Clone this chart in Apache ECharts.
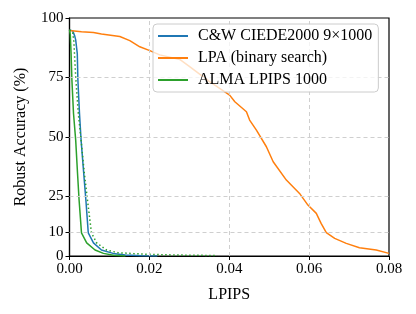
<!DOCTYPE html>
<html><head><meta charset="utf-8">
<script src="https://cdn.jsdelivr.net/npm/echarts@6/dist/echarts.min.js"></script>
<style>html,body{margin:0;padding:0;background:#fff}#c{width:416px;height:314px}</style>
</head><body><div id="c"></div>
<script>
const xTicks = [0, 0.02, 0.04, 0.06, 0.08];
const yTicks = [0, 10, 25, 50, 75, 100];
const seriesNames = ['C&W CIEDE2000 9×1000', 'LPA (binary search)', 'ALMA LPIPS 1000'];
const cwData = [[0,95],[0.0008,94.6],[0.0013,92.5],[0.00155,90.8],[0.00195,85],[0.0021,74],[0.0025,60],[0.0029,48.7],[0.0035,36],[0.0041,23.5],[0.0047,9.7],[0.006,5.5],[0.008,2.5],[0.0109,1.1],[0.014,0.4],[0.018,0.1],[0.022,0]];
const lpaData = [[0,94.7],[0.003,94.2],[0.006,93.9],[0.008,93.3],[0.0126,92.2],[0.0151,90.5],[0.0176,87.9],[0.0201,86.3],[0.0226,84.5],[0.0276,82.6],[0.03,79.7],[0.035,73.4],[0.0401,67.6],[0.0414,64.8],[0.0443,60.6],[0.0451,57.1],[0.0468,52.9],[0.0493,45.9],[0.051,39.6],[0.0543,31.9],[0.0576,26.3],[0.0597,21.4],[0.0618,17.9],[0.063,13.7],[0.0643,9.8],[0.0664,7.4],[0.0693,5.3],[0.0726,3.5],[0.0768,2.5],[0.08,1.1]];
const almaData = [[0,95],[0.0002,93],[0.0004,85],[0.0006,74],[0.001,60],[0.00155,48.7],[0.002,35],[0.0024,23.5],[0.003,9.7],[0.0043,5.5],[0.0064,2.5],[0.0085,1.1],[0.011,0.3],[0.014,0]];
const almaDottedData = [[0,95],[0.0008,94],[0.0011,90],[0.0014,80],[0.0016,74],[0.0022,60],[0.0029,48.7],[0.0037,35],[0.0045,23.5],[0.0055,9.7],[0.0068,5.5],[0.0093,2.5],[0.0121,1.4],[0.016,1.0],[0.02,0.7],[0.027,0.4],[0.037,0.2]];

const FONT = 'Liberation Serif';
const chart = echarts.init(document.getElementById('c'), null, {renderer:'canvas'});
const gridLineData = yTicks.filter(v => v > 0 && v < 100).map(v => ({yAxis: v}))
  .concat(xTicks.filter(v => v > 0 && v < 0.08).map(v => ({xAxis: v})));
chart.setOption({
  animation: false,
  grid: {left: 69.5, right: 27, top: 18, bottom: 58, show: true, borderColor: '#000', borderWidth: 1.2, backgroundColor: 'transparent'},
  xAxis: {
    type: 'value', min: 0, max: 0.08, interval: 0.02,
    name: 'LPIPS', nameLocation: 'middle', nameGap: 31,
    nameTextStyle: {fontFamily: FONT, fontSize: 16, color: '#000'},
    axisLine: {show: true, onZero: false, lineStyle: {color: '#000', width: 1.2}},
    axisTick: {show: true, length: 4, lineStyle: {color: '#000'}},
    axisLabel: {fontFamily: FONT, fontSize: 15, color: '#000', margin: 6, formatter: v => v.toFixed(2)},
    splitLine: {show: false}
  },
  yAxis: {
    type: 'value', min: 0, max: 100,
    name: 'Robust Accuracy (%)', nameLocation: 'middle', nameGap: 41,
    nameTextStyle: {fontFamily: FONT, fontSize: 16, color: '#000'},
    axisLine: {show: true, onZero: false, lineStyle: {color: '#000', width: 1.2}},
    axisTick: {show: true, length: 4, customValues: yTicks, lineStyle: {color: '#000'}},
    axisLabel: {fontFamily: FONT, fontSize: 15, color: '#000', margin: 6, customValues: yTicks},
    splitLine: {show: false}
  },
  legend: {
    data: seriesNames, orient: 'vertical', left: 153, top: 24, z: 20,
    icon: 'rect', itemWidth: 30, itemHeight: 2, itemGap: 6,
    padding: [4, 6, 4, 5],
    backgroundColor: 'rgba(255,255,255,0.75)', borderColor: '#cccccc', borderWidth: 1, borderRadius: 4,
    textStyle: {fontFamily: FONT, fontSize: 16, color: '#000', padding: [0, 0, 0, 5]}
  },
  series: [
    {type: 'line', name: '_grid', data: [], z: 1, silent: true,
     markLine: {silent: true, symbol: 'none', label: {show: false},
       lineStyle: {type: [4, 3], color: '#cfcfcf', width: 1}, data: gridLineData}},
    {type: 'line', name: seriesNames[0], data: cwData, showSymbol: false, z: 2, lineStyle: {color: '#1f77b4', width: 1.5}, itemStyle: {color: '#1f77b4'}},
    {type: 'line', name: seriesNames[1], data: lpaData, showSymbol: false, z: 2, lineStyle: {color: '#ff7f0e', width: 1.5}, itemStyle: {color: '#ff7f0e'}},
    {type: 'line', name: seriesNames[2], data: almaData, showSymbol: false, z: 2, lineStyle: {color: '#2ca02c', width: 1.5}, itemStyle: {color: '#2ca02c'}},
    {type: 'line', name: 'ALMA LPIPS dotted', data: almaDottedData, showSymbol: false, z: 2, lineStyle: {color: '#2ca02c', width: 1.5, type: [1.5, 2.5]}, itemStyle: {color: '#2ca02c'}}
  ]
});
</script></body></html>
